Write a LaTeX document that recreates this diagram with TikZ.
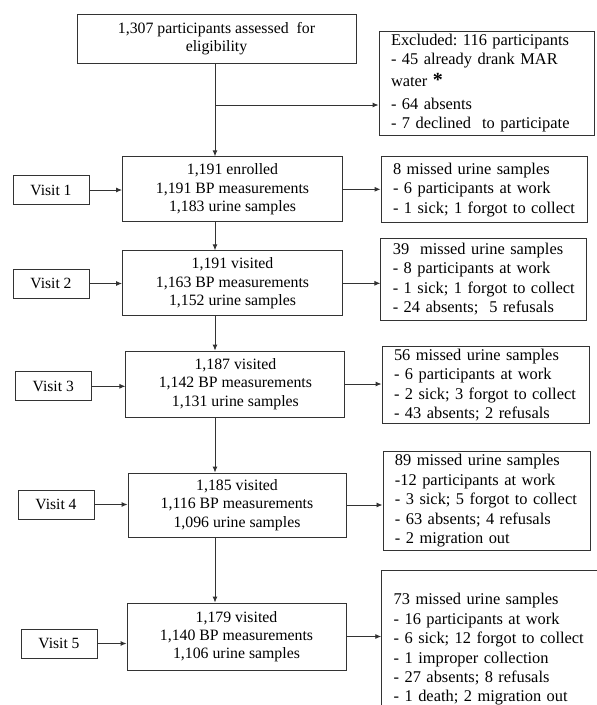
\documentclass[tikz,border=0pt]{standalone}
\usepackage{fontspec}
\setmainfont{Liberation Serif}
\usetikzlibrary{arrows.meta}
\frenchspacing

\tikzset{
    mainbox/.style={draw=black!80, line width=0.9pt, align=center, inner sep=0pt,
        font=\fontsize{15.8}{18.3}\selectfont},
    visitbox/.style={draw=black!80, line width=0.9pt, inner sep=0pt,
        minimum width=76pt, minimum height=29pt, font=\fontsize{15.6}{18}\selectfont},
    missbox/.style={draw=black!80, line width=0.9pt, align=left, inner xsep=12pt, inner ysep=0pt,
        font=\fontsize{16.4}{19.4}\selectfont},
    link/.style={draw=black!80, line width=0.9pt, -{Latex[length=6pt,width=5pt]}}
}

\begin{document}
\begin{tikzpicture}[x=1pt, y=-1pt]
        \useasboundingbox (0,0) rectangle (597,705);
        \clip (0,0) rectangle (597,705);

        \coordinate (spine) at (215,0);
        \coordinate (branch) at (215,105);

        \node[mainbox, minimum width=279pt, minimum height=49pt] (top) at (216.5,38.5)
            {1,307 participants assessed\ \ for\\eligibility};
        \node[missbox, minimum width=215pt, minimum height=104pt, text width=191pt] (excl) at (486.5,83)
            {Excluded: 116 participants\\- 45 already drank MAR\\[3pt]
             water {\fontsize{20}{19.4}\selectfont\textbf{*}}\\[3pt]- 64 absents\\- 7 declined\ \ to participate};

        % visits
        \node[mainbox, minimum width=220pt, minimum height=65pt] (b1) at (232.5,189.3)
            {1,191 enrolled\\1,191 BP measurements\\1,183 urine samples};
        \node[mainbox, minimum width=220pt, minimum height=65pt] (b2) at (232.5,283.3)
            {1,191 visited\\1,163 BP measurements\\1,152 urine samples};
        \node[mainbox, minimum width=219pt, minimum height=66pt] (b3) at (235.4,384)
            {1,187 visited\\1,142 BP measurements\\1,131 urine samples};
        \node[mainbox, minimum width=218pt, minimum height=64pt] (b4) at (237,505)
            {1,185 visited\\1,116 BP measurements\\1,096 urine samples};
        \node[mainbox, minimum width=219pt, minimum height=67pt] (b5) at (236.5,636.5)
            {1,179 visited\\1,140 BP measurements\\1,106 urine samples};

        \node[visitbox] (v1) at (51,190) {Visit 1};
        \node[visitbox] (v2) at (51,283.5) {Visit 2};
        \node[visitbox] (v3) at (53.3,386.3) {Visit 3};
        \node[visitbox] (v4) at (56,504.5) {Visit 4};
        \node[visitbox] (v5) at (59,643.5) {Visit 5};

        % missed samples
        \node[missbox, minimum width=206pt, minimum height=66pt, text width=182pt] (m1) at (484,189.7)
            {8 missed urine samples\\- 6 participants at work\\- 1 sick; 1 forgot to collect};
        \node[missbox, minimum width=206pt, minimum height=81.7pt, text width=182pt] (m2) at (483.8,279.2)
            {39\ \ missed urine samples\\- 8 participants at work\\- 1 sick; 1 forgot to collect\\- 24 absents;\ \ 5 refusals};
        \node[missbox, minimum width=207pt, minimum height=76.6pt, text width=183pt] (m3) at (485.5,385)
            {56 missed urine samples\\- 6 participants at work\\- 2 sick; 3 forgot to collect\\- 43 absents; 2 refusals};
        \node[missbox, minimum width=207.7pt, minimum height=98.3pt, text width=183.7pt] (m4) at (486.8,500.8)
            {89 missed urine samples\\-12 participants at work\\- 3 sick; 5 forgot to collect\\- 63 absents; 4 refusals\\- 2 migration out};
        \node[missbox, minimum width=230pt, minimum height=158.6pt, text width=206pt] (m5) at (496.7,649.5)
            {73 missed urine samples\\- 16 participants at work\\- 6 sick; 12 forgot to collect\\- 1 improper collection\\- 27 absents; 8 refusals\\- 1 death; 2 migration out};

        % arrows
        \draw[link] (top.south -| spine) -- (b1.north -| spine);
        \draw[link] (branch) -- (branch -| excl.west);
        \draw[link] (b1.south -| spine) -- (b2.north -| spine);
        \draw[link] (b2.south -| spine) -- (b3.north -| spine);
        \draw[link] (b3.south -| spine) -- (b4.north -| spine);
        \draw[link] (b4.south -| spine) -- (b5.north -| spine);

        \draw[link] (v1.east) -- (v1.east -| b1.west);
        \draw[link] (v2.east) -- (v2.east -| b2.west);
        \draw[link] (v3.east) -- (v3.east -| b3.west);
        \draw[link] (v4.east) -- (v4.east -| b4.west);
        \draw[link] (v5.east) -- (v5.east -| b5.west);

        \draw[link] (b1.east) -- (b1.east -| m1.west);
        \draw[link] (b2.east) -- (b2.east -| m2.west);
        \draw[link] (b3.east) -- (b3.east -| m3.west);
        \draw[link] (b4.east) -- (b4.east -| m4.west);
        \draw[link] (b5.east) -- (b5.east -| m5.west);
\end{tikzpicture}
\end{document}
